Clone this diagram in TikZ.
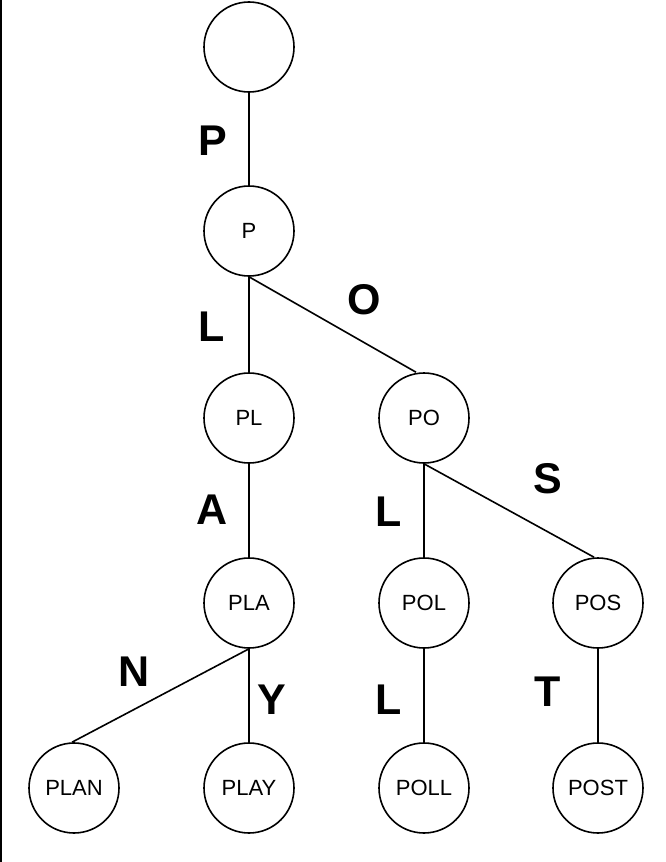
\documentclass[tikz,border=0pt]{standalone}
\usepackage{fontspec}
\setmainfont{Liberation Sans}
\begin{document}
\begin{tikzpicture}[x=1pt,y=-1pt,
  tnode/.style={circle,draw,line width=1.6pt,minimum size=90pt,inner sep=0pt,font=\fontsize{22}{22}\selectfont},
  elabel/.style={font=\fontsize{43}{43}\selectfont\bfseries,inner sep=0pt},
  edge/.style={line width=1.6pt}]
\useasboundingbox (0,0) rectangle (666,862);
\draw[line width=2pt] (1,0) -- (1,862);
\node[tnode] (root) at (249,47) {};
\node[tnode] (p) at (249,231) {P};
\node[tnode] (pl) at (249,418) {PL};
\node[tnode] (po) at (424,418) {PO};
\node[tnode] (pla) at (249,603) {PLA};
\node[tnode] (pol) at (424,603) {POL};
\node[tnode] (pos) at (598,603) {POS};
\node[tnode] (plan) at (74,788) {PLAN};
\node[tnode] (play) at (249,788) {PLAY};
\node[tnode] (poll) at (424,788) {POLL};
\node[tnode] (post) at (598,788) {POST};
\draw[edge] (root.south) -- (p.north);
\draw[edge] (p.south) -- (pl.north);
\draw[edge] (p.south) -- ([xshift=-8pt]po.north);
\draw[edge] (pl.south) -- (pla.north);
\draw[edge] (po.south) -- (pol.north);
\draw[edge] (po.south) -- ([xshift=-4pt]pos.north);
\draw[edge] (pla.south) -- ([xshift=-2pt]plan.north);
\draw[edge] (pla.south) -- (play.north);
\draw[edge] (pol.south) -- (poll.north);
\draw[edge] (pos.south) -- (post.north);
\node[elabel] (lp) at (213,141) {P};
\node[elabel] (ll1) at (212,327) {L};
\node[elabel] (lo) at (364,300) {O};
\node[elabel] (la) at (212,510) {A};
\node[elabel] (ll2) at (389,512) {L};
\node[elabel] (ls) at (548,479) {S};
\node[elabel] (ln) at (134,672) {N};
\node[elabel] (ly) at (272,700) {Y};
\node[elabel] (ll3) at (389,700) {L};
\node[elabel] (lt) at (548,692) {T};
\end{tikzpicture}
\end{document}
